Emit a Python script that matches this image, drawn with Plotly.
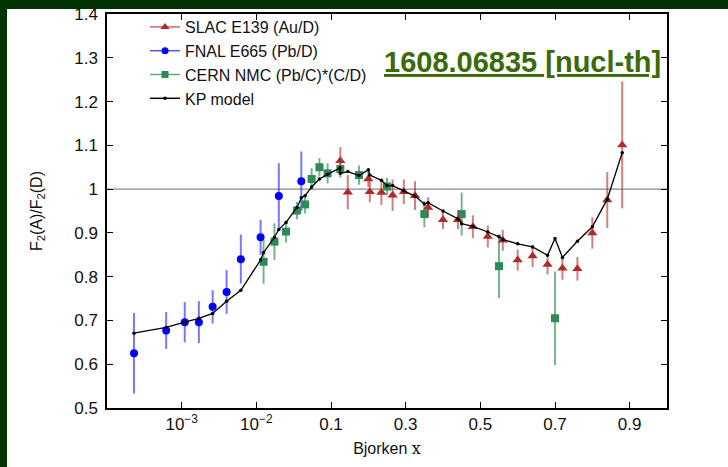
import numpy as np
import plotly.graph_objects as go

# ---- data -------------------------------------------------------------
# SLAC E139 (Au/D)
slac_x = [0.125, 0.145, 0.200, 0.204, 0.235, 0.265, 0.295, 0.325, 0.36, 0.40, 0.44,
          0.48, 0.52, 0.56, 0.60, 0.64, 0.68, 0.72, 0.76, 0.80, 0.84, 0.88]
slac_y = [1.065, 0.993, 1.023, 0.994, 0.992, 0.986, 0.994, 0.985, 0.958, 0.930, 0.930,
          0.914, 0.892, 0.883, 0.838, 0.847, 0.828, 0.819, 0.818, 0.900, 0.975, 1.101]
slac_err = [0.031, 0.039, 0.018, 0.024, 0.028, 0.036, 0.028, 0.033, 0.023, 0.021, 0.021,
            0.026, 0.025, 0.024, 0.024, 0.025, 0.023, 0.026, 0.027, 0.036, 0.064, 0.145]

# FNAL E665 (Pb/D)
fnal_x = [2.3e-4, 6.2e-4, 1.1e-3, 1.7e-3, 2.6e-3, 4.0e-3, 6.2e-3, 1.14e-2, 2.0e-2, 4.0e-2]
fnal_y = [0.625, 0.677, 0.696, 0.696, 0.731, 0.765, 0.840, 0.890, 0.984, 1.018]
fnal_err = [0.092, 0.042, 0.046, 0.048, 0.038, 0.050, 0.056, 0.040, 0.075, 0.068]

# CERN NMC (Pb/C)*(C/D)
nmc_x = [0.0125, 0.0175, 0.025, 0.035, 0.045, 0.055, 0.07, 0.09, 0.125, 0.175,
         0.25, 0.35, 0.45, 0.55, 0.70]
nmc_y = [0.834, 0.880, 0.903, 0.951, 0.965, 1.023, 1.050, 1.036, 1.046, 1.032,
         1.006, 0.943, 0.943, 0.824, 0.705]
nmc_err = [0.050, 0.042, 0.025, 0.020, 0.021, 0.025, 0.021, 0.023, 0.020, 0.022,
           0.020, 0.030, 0.049, 0.073, 0.107]

# KP model evaluated at the data points
kp_x = [2.3e-4, 6.2e-4, 1.1e-3, 1.7e-3, 2.6e-3, 4.0e-3, 6.2e-3,
        0.0114, 0.0125, 0.0175, 0.020, 0.025, 0.035, 0.040, 0.045, 0.055, 0.070, 0.090,
        0.124, 0.125, 0.145, 0.175, 0.200, 0.204, 0.235, 0.250, 0.265, 0.295,
        0.325, 0.350, 0.360, 0.400, 0.440, 0.450, 0.480, 0.520, 0.550, 0.560,
        0.600, 0.640, 0.680, 0.700, 0.720, 0.760, 0.800, 0.840, 0.880]
kp_y = [0.671, 0.684, 0.696, 0.705, 0.716, 0.744, 0.769,
        0.838, 0.855, 0.890, 0.908, 0.924, 0.958, 0.980, 0.985, 1.005, 1.023, 1.034,
        1.048, 1.036, 1.040, 1.031, 1.044, 1.032, 1.020, 1.008, 1.008, 0.996,
        0.984, 0.966, 0.969, 0.950, 0.932, 0.921, 0.915, 0.902, 0.891, 0.885,
        0.875, 0.868, 0.849, 0.887, 0.844, 0.881, 0.914, 0.977, 1.083]

x_tick_values = [1e-3, 1e-2, 0.1, 0.3, 0.5, 0.7, 0.9]
x_tick_labels = ["10<sup>\u22123</sup>", "10<sup>\u22122</sup>", "0.1", "0.3", "0.5", "0.7", "0.9"]


# Bjorken x axis: logarithmic below x = 0.1, linear above (0.2 per decade width)
def xscale(x):
    x = np.asarray(x, dtype=float)
    return np.where(x <= 0.1, np.log10(np.clip(x, 1e-12, None)), -1.0 + (x - 0.1) / 0.2)


RED = "#b02a2a"
RED_ERR = "rgba(176,42,42,0.6)"
BLUE = "#0000ff"
BLUE_ERR = "rgba(30,30,255,0.6)"
GREEN = "#2e8b57"
GREEN_ERR = "rgba(46,139,87,0.65)"
BORDER = "#023302"
FONT = "Liberation Sans, Arial, sans-serif"

fig = go.Figure()

# data points with error bars
for xs, ys, es, col, ecol, sym, size, name in [
    (fnal_x, fnal_y, fnal_err, BLUE, BLUE_ERR, "circle", 8, "FNAL E665 (Pb/D)"),
    (nmc_x, nmc_y, nmc_err, GREEN, GREEN_ERR, "square", 8, "CERN NMC (Pb/C)*(C/D)"),
    (slac_x, slac_y, slac_err, RED, RED_ERR, "triangle-up", 9, "SLAC E139 (Au/D)"),
]:
    fig.add_trace(go.Scatter(
        x=xscale(xs), y=ys, mode="markers", name=name, showlegend=False,
        marker=dict(symbol=sym, size=size, color=col, line=dict(width=0)),
        error_y=dict(type="data", array=es, visible=True, color=ecol,
                     thickness=2, width=0),
    ))

# KP model curve
fig.add_trace(go.Scatter(
    x=xscale(kp_x), y=kp_y, mode="lines+markers", name="KP model", showlegend=False,
    line=dict(color="black", width=1.3),
    marker=dict(symbol="circle", size=3.5, color="black"),
))

# legend entries (line + symbol)
for name, col, lcol, sym, size in [
    ("SLAC E139 (Au/D)", RED, "rgba(176,42,42,0.7)", "triangle-up", 8),
    ("FNAL E665 (Pb/D)", BLUE, "rgba(30,30,255,0.75)", "circle", 7),
    ("CERN NMC (Pb/C)*(C/D)", GREEN, "rgba(46,139,87,0.75)", "square", 7),
    ("KP model", "black", "black", "circle", 3.5),
]:
    fig.add_trace(go.Scatter(
        x=[None], y=[None], mode="lines+markers", name=name,
        line=dict(color=lcol, width=1.5),
        marker=dict(symbol=sym, size=size, color=col),
    ))

# plot area in pixels: x 107..667, y 14..408
L, R, T, B = 107, 61, 14, 59
W, H = 728, 467
pw, ph = W - L - R, H - T - B


def px_x(p):
    return (p - L) / pw


def px_y(q):
    return (H - B - q) / ph


fig.update_layout(
    width=W, height=H,
    margin=dict(l=L, r=R, t=T, b=B, autoexpand=False),
    paper_bgcolor="white",
    plot_bgcolor="white",
    font=dict(family=FONT, size=16, color="#111"),
    showlegend=True,
    legend=dict(x=px_x(145), y=px_y(10), xanchor="left", yanchor="top",
                bgcolor="rgba(0,0,0,0)", font=dict(size=16, family=FONT, color="#111"),
                tracegroupgap=0),
    shapes=[
        # dark green frame along the left and top edges
        dict(type="rect", xref="paper", yref="paper", layer="above",
             x0=px_x(-5), x1=px_x(7), y0=px_y(H + 5), y1=px_y(-5),
             fillcolor=BORDER, line=dict(width=0)),
        dict(type="rect", xref="paper", yref="paper", layer="above",
             x0=px_x(-5), x1=px_x(W + 5), y0=px_y(9), y1=px_y(-5),
             fillcolor=BORDER, line=dict(width=0)),
        # reference line at ratio = 1
        dict(type="line", xref="paper", yref="y", x0=0, x1=1, y0=1, y1=1,
             line=dict(color="#888", width=1.3), layer="below"),
    ],
    annotations=[
        dict(text="<b><u>1608.06835 [nucl-th]</u></b>", xref="paper", yref="paper",
             x=px_x(522), y=px_y(62), xanchor="center", yanchor="middle",
             showarrow=False, font=dict(size=29, family=FONT, color="#3a6b08")),
    ],
)

fig.update_xaxes(
    range=[-4, 3.5], tickmode="array",
    tickvals=xscale(x_tick_values).tolist(), ticktext=x_tick_labels,
    ticks="inside", ticklen=6, tickcolor="black", tickwidth=1,
    showline=True, linecolor="black", linewidth=1.5, mirror="ticks",
    showgrid=False, zeroline=False,
    tickfont=dict(size=17, family=FONT, color="#111"),
    title=dict(text="Bjorken <span style='font-family:DejaVu Serif'>x</span>",
               font=dict(size=16, family=FONT, color="#111"), standoff=10),
)
fig.update_yaxes(
    range=[0.5, 1.4], dtick=0.1, tick0=0.5,
    ticks="inside", ticklen=6, tickcolor="black", tickwidth=1,
    showline=True, linecolor="black", linewidth=1.5, mirror="ticks",
    showgrid=False, zeroline=False,
    tickfont=dict(size=17, family=FONT, color="#111"),
    ticklabelstandoff=4,
    title=dict(text="F<sub>2</sub>(A)/F<sub>2</sub>(D)",
               font=dict(size=16, family=FONT, color="#111"), standoff=28),
)

fig.write_html("out.html")
